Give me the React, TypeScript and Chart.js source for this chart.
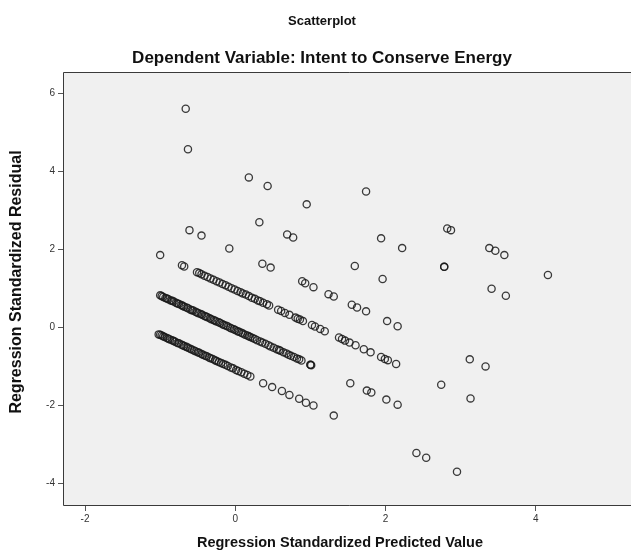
import { useEffect, useRef } from "react";
import { Chart, registerables } from "chart.js";

Chart.register(...registerables);

// Tick values
const X_TICKS = [-2, 0, 2, 4];
const Y_TICKS = [-4, -2, 0, 2, 4, 6];

// Points: [standardized predicted value, standardized residual]
// lowest residual band
const bandLowest: [number, number][] = [
  [-1.02, -0.18], [-1.0, -0.19], [-0.98, -0.21], [-0.96, -0.23], [-0.94, -0.25], [-0.91, -0.27],
  [-0.89, -0.29], [-0.87, -0.31], [-0.84, -0.33], [-0.82, -0.35], [-0.8, -0.37], [-0.77, -0.4],
  [-0.75, -0.41], [-0.72, -0.44], [-0.7, -0.46], [-0.68, -0.48], [-0.65, -0.5], [-0.63, -0.52],
  [-0.6, -0.55], [-0.58, -0.57], [-0.55, -0.59], [-0.53, -0.61], [-0.5, -0.64], [-0.48, -0.65],
  [-0.45, -0.68], [-0.43, -0.7], [-0.4, -0.73], [-0.38, -0.74], [-0.35, -0.77], [-0.33, -0.79],
  [-0.3, -0.81], [-0.27, -0.84], [-0.25, -0.86], [-0.22, -0.89], [-0.19, -0.91], [-0.16, -0.94],
  [-0.13, -0.96], [-0.1, -0.99], [-0.06, -1.03], [-0.03, -1.05], [0.01, -1.09], [0.04, -1.12],
  [0.08, -1.15], [0.12, -1.19], [0.16, -1.22], [0.2, -1.26], [0.37, -1.43], [0.49, -1.53],
  [0.62, -1.63], [0.72, -1.73], [0.85, -1.83], [0.94, -1.93], [1.04, -2.0], [1.31, -2.26],
  [2.41, -3.22], [2.54, -3.34], [2.95, -3.7],
];

// second band
const bandSecond: [number, number][] = [
  [-1.0, 0.82], [-0.98, 0.8], [-0.96, 0.78], [-0.93, 0.75], [-0.91, 0.74], [-0.89, 0.72],
  [-0.86, 0.69], [-0.84, 0.68], [-0.82, 0.66], [-0.79, 0.63], [-0.77, 0.61], [-0.75, 0.6],
  [-0.72, 0.57], [-0.7, 0.55], [-0.68, 0.53], [-0.65, 0.51], [-0.63, 0.49], [-0.6, 0.46],
  [-0.58, 0.44], [-0.56, 0.43], [-0.53, 0.4], [-0.51, 0.38], [-0.49, 0.36], [-0.46, 0.34],
  [-0.44, 0.32], [-0.41, 0.29], [-0.39, 0.28], [-0.37, 0.26], [-0.34, 0.23], [-0.32, 0.21],
  [-0.29, 0.19], [-0.27, 0.17], [-0.25, 0.15], [-0.22, 0.13], [-0.2, 0.11], [-0.17, 0.08],
  [-0.15, 0.06], [-0.12, 0.04], [-0.1, 0.02], [-0.07, -0.01], [-0.05, -0.03], [-0.02, -0.05],
  [0.0, -0.07], [0.03, -0.1], [0.05, -0.11], [0.08, -0.14], [0.1, -0.16], [0.13, -0.19],
  [0.16, -0.21], [0.18, -0.23], [0.2, -0.25], [0.23, -0.27], [0.26, -0.3], [0.29, -0.33],
  [0.33, -0.36], [0.36, -0.39], [0.4, -0.42], [0.44, -0.46], [0.47, -0.49], [0.51, -0.52],
  [0.55, -0.56], [0.58, -0.58], [0.6, -0.6], [0.64, -0.64], [0.68, -0.67], [0.71, -0.7],
  [0.74, -0.73], [0.78, -0.76], [0.82, -0.8], [0.85, -0.82], [0.88, -0.85], [1.0, -0.96],
  [1.0, -0.96], [1.01, -0.97], [1.53, -1.43], [1.75, -1.62], [1.81, -1.67], [2.01, -1.85],
  [2.16, -1.98],
];

// third band
const bandThird: [number, number][] = [
  [-1.0, 1.85], [-0.71, 1.59], [-0.68, 1.56], [-0.51, 1.41], [-0.48, 1.39], [-0.45, 1.36],
  [-0.41, 1.32], [-0.37, 1.29], [-0.33, 1.25], [-0.29, 1.22], [-0.25, 1.18], [-0.21, 1.15],
  [-0.17, 1.11], [-0.13, 1.08], [-0.09, 1.04], [-0.05, 1.0], [-0.01, 0.97], [0.03, 0.93],
  [0.07, 0.9], [0.1, 0.87], [0.14, 0.84], [0.18, 0.8], [0.22, 0.76], [0.26, 0.73],
  [0.3, 0.69], [0.33, 0.67], [0.37, 0.63], [0.42, 0.59], [0.45, 0.56], [0.57, 0.45],
  [0.61, 0.42], [0.66, 0.37], [0.72, 0.32], [0.8, 0.25], [0.83, 0.22], [0.86, 0.2],
  [0.9, 0.16], [1.02, 0.06], [1.06, 0.02], [1.13, -0.04], [1.19, -0.1], [1.38, -0.26],
  [1.42, -0.3], [1.46, -0.34], [1.52, -0.39], [1.6, -0.46], [1.71, -0.56], [1.8, -0.64],
  [1.94, -0.76], [1.99, -0.81], [2.03, -0.84], [2.14, -0.94], [2.74, -1.47], [3.13, -1.82],
];

// fourth band
const bandFourth: [number, number][] = [
  [-0.61, 2.49], [-0.45, 2.35], [-0.08, 2.02], [0.36, 1.63], [0.47, 1.53], [0.89, 1.18],
  [0.93, 1.13], [1.04, 1.03], [1.24, 0.85], [1.31, 0.79], [1.55, 0.58], [1.62, 0.51],
  [1.74, 0.41], [2.02, 0.16], [2.16, 0.03], [3.12, -0.82], [3.33, -1.0],
];

// fifth band
const bandFifth: [number, number][] = [
  [0.32, 2.69], [0.69, 2.38], [0.77, 2.3], [1.59, 1.57], [1.96, 1.24],
];

// sixth band
const bandSixth: [number, number][] = [
  [-0.63, 4.56], [0.18, 3.84], [0.43, 3.62], [0.95, 3.15], [1.94, 2.28], [2.22, 2.03],
  [2.78, 1.55], [2.78, 1.55], [3.41, 0.99], [3.6, 0.81],
];

// seventh band
const bandSeventh: [number, number][] = [
  [-0.66, 5.6], [1.74, 3.48], [2.82, 2.53], [2.87, 2.49], [3.38, 2.03], [3.46, 1.96],
  [3.58, 1.85], [4.16, 1.34],
];

const TITLE = "Scatterplot";
const SUBTITLE = "Dependent Variable: Intent to Conserve Energy";
const X_TITLE = "Regression Standardized Predicted Value";
const Y_TITLE = "Regression Standardized Residual";

const FONT = '"Liberation Sans", Arial, sans-serif';

const spssPlugin = {
  id: "spssFrame",
  beforeDatasetsDraw(chart: any) {
    const { ctx, chartArea } = chart;
    ctx.save();
    ctx.fillStyle = "#f0f0f0";
    ctx.fillRect(chartArea.left, chartArea.top, chartArea.right - chartArea.left, chartArea.bottom - chartArea.top);
    ctx.restore();
  },
  afterDraw(chart: any) {
    const { ctx, chartArea } = chart;
    ctx.save();
    ctx.strokeStyle = "#3a3a3a";
    ctx.lineWidth = 1;
    ctx.beginPath();
    ctx.moveTo(chartArea.right + 1, chartArea.top + 0.5);
    ctx.lineTo(chartArea.left + 0.5, chartArea.top + 0.5);
    ctx.lineTo(chartArea.left + 0.5, chartArea.bottom + 0.5);
    ctx.lineTo(chartArea.right + 1, chartArea.bottom + 0.5);
    ctx.stroke();

    ctx.fillStyle = "#111";
    ctx.textAlign = "center";
    ctx.textBaseline = "middle";
    ctx.font = `bold 13px ${FONT}`;
    ctx.fillText(TITLE, 322, 21);
    ctx.font = `bold 17px ${FONT}`;
    ctx.fillText(SUBTITLE, 322, 58);
    ctx.font = `bold 14.5px ${FONT}`;
    ctx.fillText(X_TITLE, 340, 543);
    ctx.font = `bold 16px ${FONT}`;
    ctx.translate(17, 282);
    ctx.rotate(-Math.PI / 2);
    ctx.fillText(Y_TITLE, 0, 0);
    ctx.restore();
  },
};

export default function App() {
  const ref = useRef<HTMLCanvasElement | null>(null);
  useEffect(() => {
    if (!ref.current) return;
    const pts = [
      ...bandLowest,
      ...bandSecond,
      ...bandThird,
      ...bandFourth,
      ...bandFifth,
      ...bandSixth,
      ...bandSeventh,
    ].map(([x, y]) => ({ x, y }));
    const chart = new Chart(ref.current, {
      type: "scatter",
      data: {
        datasets: [
          {
            data: pts,
            pointStyle: "circle",
            pointRadius: 3.6,
            pointHoverRadius: 3.6,
            pointBorderWidth: 1.3,
            borderColor: "rgba(25,25,25,0.85)",
            backgroundColor: "rgba(0,0,0,0)",
          },
        ],
      },
      plugins: [spssPlugin],
      options: {
        responsive: false,
        animation: false,
        layout: { padding: { top: 72, left: 0, right: 0, bottom: 0 } },
        plugins: { legend: { display: false }, tooltip: { enabled: false }, title: { display: false } },
        scales: {
          x: {
            type: "linear",
            min: -2.293,
            max: 5.32,
            afterFit: (s: any) => {
              s.height = 51;
            },
            afterBuildTicks: (s: any) => {
              s.ticks = X_TICKS.map((v) => ({ value: v }));
            },
            grid: { drawOnChartArea: false, drawTicks: true, tickLength: 6, color: "#555", tickColor: "#555" },
            border: { display: false },
            ticks: { font: { family: FONT, size: 10 }, color: "#333", padding: 2, maxRotation: 0 },
          },
          y: {
            type: "linear",
            min: -4.55,
            max: 6.54,
            afterFit: (s: any) => {
              s.width = 63;
            },
            afterBuildTicks: (s: any) => {
              s.ticks = Y_TICKS.map((v) => ({ value: v }));
            },
            grid: { drawOnChartArea: false, drawTicks: true, tickLength: 5, color: "#555", tickColor: "#555" },
            border: { display: false },
            ticks: { font: { family: FONT, size: 10 }, color: "#333", padding: 3 },
          },
        },
      },
    });
    return () => chart.destroy();
  }, []);
  return (
    <div style={{ position: "absolute", left: 0, top: 0, width: 631, height: 556, overflow: "hidden", background: "#fff" }}>
      <canvas ref={ref} width={640} height={556} style={{ display: "block", width: 640, height: 556 }} />
    </div>
  );
}
